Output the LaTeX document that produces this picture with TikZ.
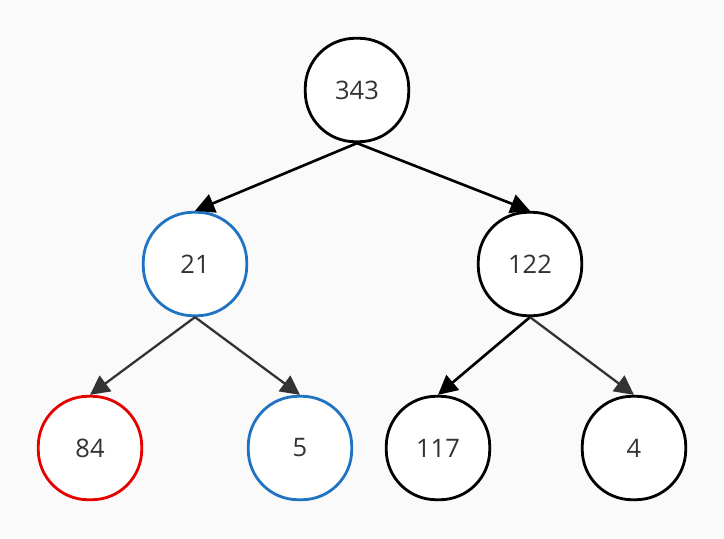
\documentclass[tikz,border=0pt]{standalone}
\usepackage{fontspec}
\setmainfont{Open Sans}
\usetikzlibrary{arrows.meta}
\definecolor{bgGray}{HTML}{FAFAFA}
\definecolor{textGray}{HTML}{333333}
\definecolor{edgeGray}{HTML}{333333}
\definecolor{markBlue}{HTML}{1F74C2}
\definecolor{markRed}{HTML}{E60000}

\begin{document}
\begin{tikzpicture}[x=0.02cm, y=-0.02cm,
      key/.style={draw=black, fill=white, rounded corners=1.0cm, line width=1.6pt,
                  minimum width=2.07cm, minimum height=2.07cm, inner sep=0pt,
                  text=textGray, font=\fontsize{14.5}{17}\selectfont},
      blue/.style={draw=markBlue},
      red/.style={draw=markRed},
      arr/.style={-{Triangle[length=11pt, width=11pt]}, line width=1.5pt},
      arrg/.style={arr, edgeGray, line width=1.3pt}]
    \fill[bgGray] (0,0) rectangle (724,538);
    \useasboundingbox (0,0) rectangle (724,538);
    \node[key] (r) at (357,90) {343};
    \node[key, blue] (a) at (195,264) {21};
    \node[key] (b) at (530,264) {122};
    \node[key, red] (aa) at (90,448) {84};
    \node[key, blue] (ab) at (300,448) {5};
    \node[key] (ba) at (438,448) {117};
    \node[key] (bb) at (634,448) {4};
    \draw[arr] (r.south) -- (a.north); \draw[arr] (r.south) -- (b.north);
    \draw[arrg] (a.south) -- (aa.north); \draw[arrg] (a.south) -- (ab.north);
    \draw[arr] (b.south) -- (ba.north); \draw[arrg] (b.south) -- (bb.north);
  \end{tikzpicture}
\end{document}
